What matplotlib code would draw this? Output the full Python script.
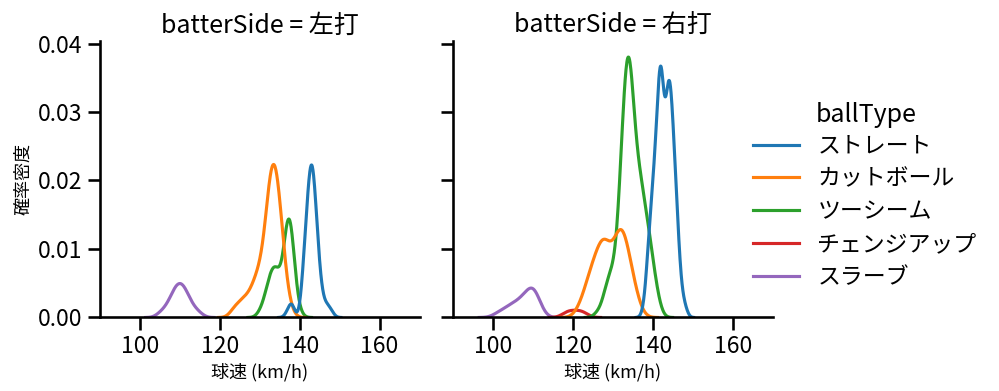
import numpy as np
import pandas as pd
import seaborn as sns
import matplotlib.pyplot as plt
from matplotlib.lines import Line2D

sides = ['左打', '右打']
ball_types = ['ストレート', 'カットボール', 'ツーシーム', 'チェンジアップ', 'スラーブ']

# 左打: 球速 (km/h) と球数
L_straight_kmh = [137, 138, 141, 142, 143, 144, 145, 146, 147, 148]
L_straight_n = [1, 3, 8, 17, 25, 16, 6, 2, 2, 1]
L_cutter_kmh = [123, 124, 125, 126, 127, 128, 129, 130, 131, 132, 133, 134, 135, 136, 137, 138]
L_cutter_n = [1, 2, 2, 3, 3, 4, 6, 7, 9, 17, 24, 23, 17, 9, 3, 1]
L_twoseam_kmh = [130, 131, 132, 133, 134, 135, 136, 137, 138, 139, 140]
L_twoseam_n = [1, 2, 5, 7, 8, 5, 7, 18, 15, 3, 1]
L_slurve_kmh = [105, 106, 107, 108, 109, 110, 111, 112, 113, 114, 115]
L_slurve_n = [1, 1, 2, 3, 5, 5, 5, 3, 2, 1, 1]

# 右打
R_straight_kmh = [138, 139, 140, 141, 142, 143, 144, 145, 146, 147, 148]
R_straight_n = [2, 12, 18, 26, 42, 22, 38, 27, 16, 4, 2]
R_cutter_kmh = [121, 122, 123, 124, 125, 126, 127, 128, 129, 130, 131, 132, 133, 134, 135, 136, 137]
R_cutter_n = [1, 2, 4, 6, 8, 9, 11, 13, 9, 8, 12, 15, 12, 9, 6, 3, 1]
R_twoseam_kmh = [126, 127, 128, 129, 130, 131, 132, 133, 134, 135, 136, 137, 138, 139, 140, 141, 142]
R_twoseam_n = [1, 1, 4, 6, 7, 8, 22, 34, 43, 29, 22, 19, 16, 12, 8, 4, 1]
R_change_kmh = [118, 119, 120, 121, 122, 123]
R_change_n = [1, 1, 1, 1, 1, 1]
R_slurve_kmh = [101, 102, 103, 104, 105, 106, 107, 108, 109, 110, 111, 112]
R_slurve_n = [1, 1, 1, 2, 2, 2, 3, 3, 4, 6, 4, 1]

groups = [
    ('左打', 'ストレート', L_straight_kmh, L_straight_n),
    ('左打', 'カットボール', L_cutter_kmh, L_cutter_n),
    ('左打', 'ツーシーム', L_twoseam_kmh, L_twoseam_n),
    ('左打', 'スラーブ', L_slurve_kmh, L_slurve_n),
    ('右打', 'ストレート', R_straight_kmh, R_straight_n),
    ('右打', 'カットボール', R_cutter_kmh, R_cutter_n),
    ('右打', 'ツーシーム', R_twoseam_kmh, R_twoseam_n),
    ('右打', 'チェンジアップ', R_change_kmh, R_change_n),
    ('右打', 'スラーブ', R_slurve_kmh, R_slurve_n),
]

frames = []
for side, bt, kmh, n in groups:
    speed = np.repeat(kmh, n).astype(float)
    frames.append(pd.DataFrame({'batterSide': side, 'ballType': bt, 'speed': speed}))
df = pd.concat(frames, ignore_index=True)

sns.set_context('talk')
plt.rcParams['font.family'] = ['Noto Sans CJK JP', 'DejaVu Sans']

g = sns.displot(df, x='speed', hue='ballType', col='batterSide', kind='kde',
                hue_order=ball_types, col_order=sides, legend=False,
                height=4, aspect=1)
g.set_titles('batterSide = {col_name}')
g.set_axis_labels('球速 (km/h)', '確率密度', fontsize=13)

fig = g.figure
fig.set_size_inches(9.99, 3.91)
ax_l, ax_r = g.axes[0]
ax_l.set_position([0.100, 0.188, 0.320, 0.706])
ax_r.set_position([0.4535, 0.188, 0.320, 0.706])
for ax in (ax_l, ax_r):
    ax.set_xlim(90, 170)
    ax.set_ylim(0, 0.0403)
    ax.set_xticks([100, 120, 140, 160])
ax_l.set_yticks([0, 0.01, 0.02, 0.03, 0.04])

# 凡例
colors = sns.color_palette(n_colors=len(ball_types))
handles = [Line2D([], [], color=c, lw=plt.rcParams['lines.linewidth']) for c in colors]
fig.legend(handles, ball_types, loc='center left', bbox_to_anchor=(0.7333, 0.4583),
           frameon=False, labelspacing=0.43)
fig.text(866 / 999, 1 - 115 / 391, 'ballType', ha='center', va='center', fontsize=18)

fig.savefig('out.png', dpi=100)
